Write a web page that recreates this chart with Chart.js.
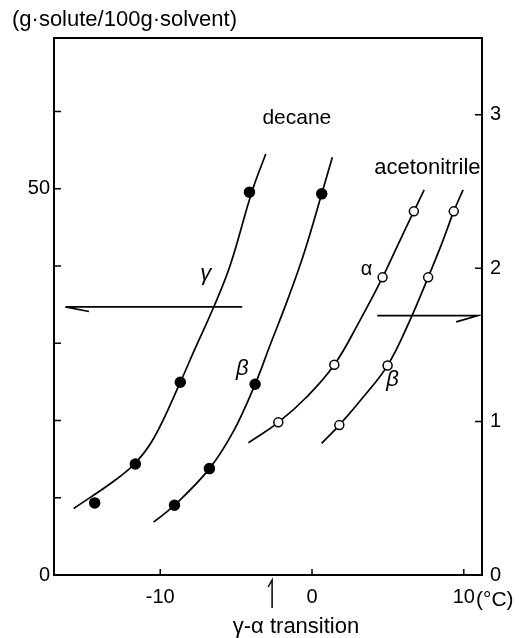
<!DOCTYPE html>
<html>
<head>
<meta charset="utf-8">
<script src="https://cdn.jsdelivr.net/npm/chart.js@4/dist/chart.umd.min.js"></script>
<style>
  body { margin: 0; background: #fff; }
  #wrap { width: 519px; height: 638px; }
</style>
</head>
<body>
<div id="wrap"><canvas id="chart" width="519" height="638"></canvas></div>
<script>
// temperature (°C) vs solubility
// decane: left axis (g solute / 100 g solvent)
const decaneGammaPts = [[-14.32, 9.33], [-11.64, 14.36], [-8.68, 24.94], [-4.12, 49.55]];
const decaneBetaPts = [[-9.06, 9.03], [-6.76, 13.77], [-3.75, 24.68], [0.64, 49.33]];
const decaneGammaCurve = [[-15.7, 8.61], [-13.07, 12.13], [-11.64, 14.49], [-10.4, 17.8],
  [-8.68, 24.94], [-7.7, 29.33], [-6.49, 34.62], [-5.39, 40.09], [-3.97, 49.55], [-3.05, 54.49]];
const decaneBetaCurve = [[-10.44, 6.84], [-9.06, 9.03], [-6.76, 13.77], [-5.18, 18.58], [-3.75, 24.68],
  [-2.76, 29.77], [-1.66, 35.35], [-0.57, 41.38], [0.64, 49.33], [1.34, 54.06]];

// acetonitrile: right axis
const acnAlphaPts = [[-2.22, 0.995], [1.47, 1.37], [4.65, 1.94], [6.71, 2.37]];
const acnBetaPts = [[1.8, 0.977], [4.98, 1.366], [7.65, 1.94], [9.34, 2.37]];
const acnAlphaCurve = [[-4.19, 0.862], [-2.22, 0.995], [-0.35, 1.16], [1.47, 1.37], [3.16, 1.66],
  [4.65, 1.94], [5.79, 2.18], [6.71, 2.37], [7.39, 2.51]];
const acnBetaCurve = [[0.64, 0.858], [1.8, 0.977], [3.38, 1.16], [4.98, 1.366], [6.45, 1.66],
  [7.65, 1.94], [8.55, 2.16], [9.34, 2.37], [9.95, 2.51]];

// which-axis arrows
const leftArrow = [[-4.6, 34.7], [-16.25, 34.7], [-14.7, 34.1]];
const rightArrow = [[4.3, 1.69], [10.9, 1.69], [9.5, 1.65]];

// ticks
const xTicks = [-10, 0, 10];
const leftLabels = [0, 50];
const leftTickMarks = [10, 20, 30, 40, 50, 60];
const rightTicks = [0, 1, 2, 3];
const rightTickMarks = [1, 2, 3];
const transitionT = -2.63;

const FONT = 'Liberation Sans, Arial, sans-serif';

const toXY = arr => arr.map(p => ({ x: p[0], y: p[1] }));

// text notes on the plot, [text, x, y, axis, font]
const notes = [
  ['decane', -1.0, 59.1, 'y', '21px ' + FONT],
  ['acetonitrile', 7.6, 2.65, 'y2', '22px ' + FONT],
  ['γ', -7.0, 39.0, 'y', 'italic 22px ' + FONT],
  ['β', -4.6, 26.7, 'y', 'italic 22px ' + FONT],
  ['α', 3.6, 1.99, 'y2', '20px ' + FONT],
  ['β', 5.3, 1.27, 'y2', 'italic 22px ' + FONT]
];

const decorPlugin = {
  id: 'decor',
  afterDraw(chart) {
    const ctx = chart.ctx;
    const a = chart.chartArea;
    const xs = chart.scales.x, yl = chart.scales.y, yr = chart.scales.y2;
    ctx.save();
    ctx.strokeStyle = '#000';
    ctx.lineWidth = 2;
    ctx.strokeRect(a.left, a.top, a.right - a.left, a.bottom - a.top);

    ctx.lineWidth = 1.5;
    ctx.beginPath();
    leftTickMarks.forEach(v => {
      const y = yl.getPixelForValue(v);
      ctx.moveTo(a.left, y); ctx.lineTo(a.left + 7, y);
    });
    rightTickMarks.forEach(v => {
      const y = yr.getPixelForValue(v);
      ctx.moveTo(a.right, y); ctx.lineTo(a.right - 7, y);
    });
    xTicks.forEach(v => {
      const x = xs.getPixelForValue(v);
      ctx.moveTo(x, a.bottom); ctx.lineTo(x, a.bottom - 6);
    });
    ctx.stroke();

    // transition arrow under the axis
    const tx = xs.getPixelForValue(transitionT);
    ctx.beginPath();
    ctx.moveTo(tx, a.bottom + 33); ctx.lineTo(tx, a.bottom + 5);
    ctx.lineTo(tx - 4, a.bottom + 12);
    ctx.stroke();

    ctx.fillStyle = '#000';
    ctx.textBaseline = 'middle';
    ctx.textAlign = 'center';
    notes.forEach(n => {
      ctx.font = n[4];
      const sc = n[3] === 'y' ? yl : yr;
      ctx.fillText(n[0], xs.getPixelForValue(n[1]), sc.getPixelForValue(n[2]));
    });

    ctx.font = '22px ' + FONT;
    ctx.textAlign = 'left';
    ctx.fillText('(g·solute/100g·solvent)', 12, 20);
    ctx.font = '21px ' + FONT;
    ctx.fillText('(°C)', 476, 600);
    ctx.textAlign = 'center';
    ctx.font = '22px ' + FONT;
    ctx.fillText('γ-α transition', 296, 627);
    ctx.restore();
  }
};

const pointStyle = (data, axis, filled) => ({
  data: toXY(data),
  yAxisID: axis,
  showLine: false,
  pointRadius: filled ? 5 : 4.5,
  pointBorderWidth: 1.5,
  pointBackgroundColor: filled ? '#000' : '#fff',
  pointBorderColor: '#000'
});

const lineStyle = (data, axis, smooth) => ({
  data: toXY(data),
  yAxisID: axis,
  showLine: true,
  pointRadius: 0,
  borderColor: '#000',
  borderWidth: 1.7,
  tension: smooth ? 0.4 : 0
});

new Chart(document.getElementById('chart'), {
  type: 'scatter',
  data: {
    datasets: [
      pointStyle(decaneGammaPts, 'y', true),
      pointStyle(decaneBetaPts, 'y', true),
      pointStyle(acnAlphaPts, 'y2', false),
      pointStyle(acnBetaPts, 'y2', false),
      lineStyle(decaneGammaCurve, 'y', true),
      lineStyle(decaneBetaCurve, 'y', true),
      lineStyle(acnAlphaCurve, 'y2', true),
      lineStyle(acnBetaCurve, 'y2', true),
      lineStyle(leftArrow, 'y', false),
      lineStyle(rightArrow, 'y2', false)
    ]
  },
  options: {
    responsive: false,
    animation: false,
    layout: { padding: { top: 38 } },
    plugins: { legend: { display: false }, tooltip: { enabled: false } },
    scales: {
      x: {
        type: 'linear', min: -17, max: 11.2,
        grid: { display: false, drawTicks: false },
        border: { display: false },
        afterBuildTicks: s => { s.ticks = xTicks.map(v => ({ value: v })); },
        afterFit: s => { s.height = 63; },
        ticks: { padding: 10, color: '#000', font: { family: FONT, size: 20 }, maxRotation: 0 }
      },
      y: {
        type: 'linear', position: 'left', min: 0, max: 69.5,
        grid: { display: false, drawTicks: false },
        border: { display: false },
        afterBuildTicks: s => { s.ticks = leftLabels.map(v => ({ value: v })); },
        afterFit: s => { s.width = 54; },
        ticks: { padding: 4, color: '#000', font: { family: FONT, size: 20 } }
      },
      y2: {
        type: 'linear', position: 'right', min: 0, max: 3.5,
        grid: { display: false, drawTicks: false },
        border: { display: false },
        afterBuildTicks: s => { s.ticks = rightTicks.map(v => ({ value: v })); },
        afterFit: s => { s.width = 37; },
        ticks: { padding: 8, color: '#000', font: { family: FONT, size: 20 } }
      }
    }
  },
  plugins: [decorPlugin]
});
</script>
</body>
</html>
